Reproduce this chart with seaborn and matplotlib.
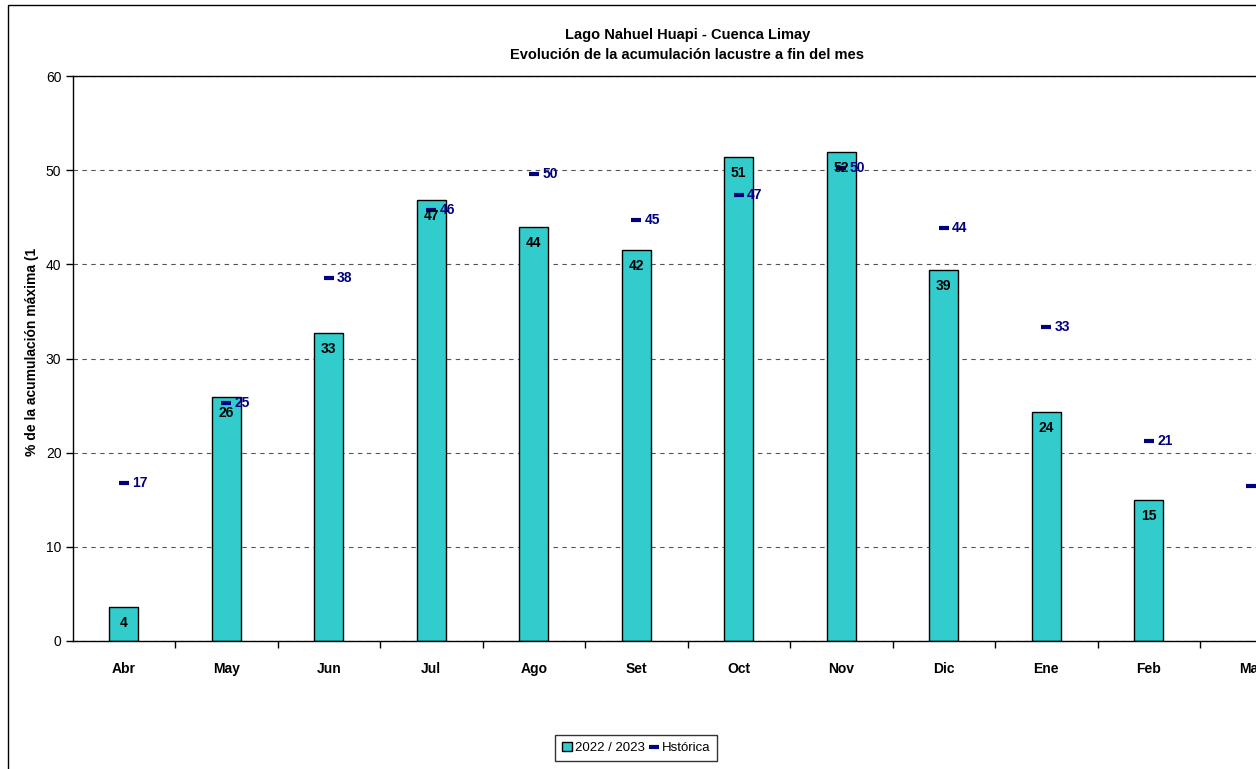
import matplotlib
matplotlib.use('Agg')
import matplotlib.pyplot as plt
import seaborn as sns
import numpy as np
import pandas as pd
from matplotlib.patches import Patch, Rectangle
from matplotlib.lines import Line2D

# data
months = ['Abr', 'May', 'Jun', 'Jul', 'Ago', 'Set', 'Oct', 'Nov', 'Dic', 'Ene', 'Feb', 'Mar']
actual = [3.6, 25.9, 32.7, 46.8, 44.0, 41.5, 51.4, 51.9, 39.4, 24.3, 15.0, np.nan]
historic = [16.8, 25.3, 38.5, 45.8, 49.6, 44.7, 47.4, 50.2, 43.9, 33.3, 21.2, 16.5]

bar_color = '#33CCCC'
hist_color = '#000080'

sns.set_style('white')
plt.rcParams['font.family'] = ['Liberation Sans', 'DejaVu Sans']
plt.rcParams['text.color'] = 'black'
plt.rcParams['xtick.color'] = 'black'
plt.rcParams['ytick.color'] = 'black'

df = pd.DataFrame({'Mes': months, 'Actual': actual, 'Historica': historic})

fig = plt.figure(figsize=(12.56, 7.69), dpi=100)
W, H = 1256, 769
# axes extend past the right edge like the original
ax = fig.add_axes([72.5 / W, 128 / H, (1302.5 - 72.5) / W, (641 - 76) / H])

sns.barplot(data=df, x='Mes', y='Actual', order=months, color=bar_color,
            width=0.285, edgecolor='black', linewidth=1, saturation=1, ax=ax)
ax.plot(range(len(months)), historic, linestyle='none', marker='_',
        markersize=7, markeredgewidth=3, color=hist_color, zorder=4)

# value labels
for i, v in enumerate(actual):
    if not np.isnan(v):
        ax.annotate(f'{v:.0f}', (i, v), xytext=(0, -11.5), textcoords='offset points',
                    ha='center', va='center', fontsize=10, fontweight='bold', color='black', zorder=5)
for i, v in enumerate(historic):
    ax.annotate(f'{v:.0f}', (i, v), xytext=(6, 0), textcoords='offset points',
                ha='left', va='center', fontsize=10, fontweight='bold', color=hist_color, zorder=5)

ax.set_xlim(-0.5, len(months) - 0.5)
ax.set_ylim(0, 60)
ax.set_yticks(range(0, 61, 10))
ax.yaxis.grid(True, linestyle=(0, (4, 4)), color='#555555', linewidth=0.8)
ax.set_axisbelow(True)
for s in ax.spines.values():
    s.set_color('black')
    s.set_linewidth(1)

ax.set_xticks(range(len(months)))
ax.set_xticklabels(months, fontweight='bold', fontsize=10)
ax.set_xticks(np.arange(0.5, len(months), 1), minor=True)
ax.tick_params(axis='x', which='major', length=0, pad=15)
ax.tick_params(axis='x', which='minor', length=5, width=1, color='black', direction='out', bottom=True)
ax.tick_params(axis='y', length=5, width=1, color='black', direction='out', left=True, labelsize=10, pad=3)
ax.set_xlabel('')
ax.set_ylabel('')

fig.text(32 / W, 1 - 352 / H, '% de la acumulación máxima (1', rotation=90,
         ha='center', va='center', fontsize=10, fontweight='bold')

cx = (72.5 + 1302.5) / 2 / W
fig.text(cx, 1 - 35 / H, 'Lago Nahuel Huapi - Cuenca Limay', ha='center', va='center',
         fontsize=10.5, fontweight='bold')
fig.text(cx, 1 - 55 / H, 'Evolución de la acumulación lacustre a fin del mes', ha='center', va='center',
         fontsize=10.5, fontweight='bold')

handles = [Patch(facecolor=bar_color, edgecolor='black', linewidth=1),
           Line2D([], [], linestyle='none', marker='_', markersize=7, markeredgewidth=3, color=hist_color)]
leg = fig.legend(handles, ['2022 / 2023', 'Hstórica'], loc='center', ncol=2,
                 bbox_to_anchor=(636 / W, 21 / H), frameon=True, fancybox=False,
                 edgecolor='black', fontsize=9.5, handlelength=0.8, handletextpad=0.2,
                 columnspacing=0.3, borderpad=0.5, borderaxespad=0)
leg.get_frame().set_linewidth(1)

# chart area border (cut off at right and bottom)
fig.patches.append(Rectangle((8 / W, -0.1), 1.2, 1.1 - 5 / H, transform=fig.transFigure,
                             fill=False, edgecolor='black', linewidth=1, zorder=0))

fig.savefig('out.png', dpi=100)
